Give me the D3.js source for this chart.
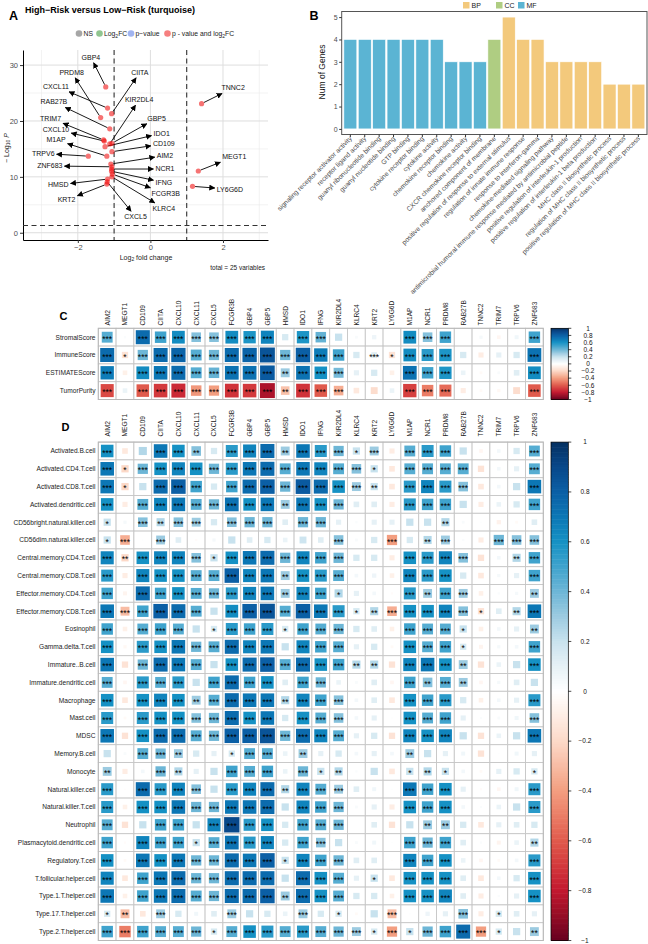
<!DOCTYPE html>
<html><head><meta charset="utf-8">
<script src="https://cdn.jsdelivr.net/npm/d3@7"></script>
<style>body{margin:0;background:#fff}svg{display:block;font-family:"Liberation Sans",Arial,Helvetica,sans-serif}</style>
</head><body><svg id="fig" width="648" height="944"></svg>
<script>
// ================= DATA =================
// Panel A: volcano
const volcanoGenes = ["GBP4","CXCL11","CIITA","PRDM8","RAB27B","TRIM7","CXCL10","KIR2DL4","GBP5","IDO1","CD109","M1AP","TRPV6","AIM2","ZNF683","NCR1","IFNG","FCGR3B","KLRC4","HMSD","CXCL5","KRT2","TNNC2","MEGT1","LY6G6D"];
const volcanoLogFC = [-1.23,-1.18,-1.07,-1.37,-1.12,-1.29,-1.27,-1.12,-1.06,-1.25,-1.06,-1.2,-1.71,-1.09,-1.06,-1.07,-1.07,-1.05,-1.06,-1.18,-1.19,-1.2,1.41,1.32,1.16];
const volcanoNegLog10P = [26.1,22.3,21.3,20.6,18.6,16.6,16.4,15.9,16.0,15.4,14.5,13.7,13.7,12.3,11.8,11.4,11.0,10.5,10.0,9.6,9.1,8.7,23.1,11.05,8.3];
const volcanoLegend = ["NS","Log2FC","p-value","p - value and log2FC"];
// Panel B: GO enrichment
const goTerms = ["signaling receptor activator activity","receptor ligand activity","guanyl ribonucleotide binding","guanyl nucleotide binding","GTP binding","cytokine receptor binding","cytokine activity","chemokine receptor binding","chemokine activity","CXCR chemokine receptor binding","anchored component of membrane","positive regulation of response to external stimulus","regulation of innate immune response","response to interferon-gamma","chemokine-mediated signaling pathway","antimicrobial humoral immune response mediated by antimicrobial peptide","positive regulation of interleukin-1 production","positive regulation of interleukin-1 beta production","MHC class II biosynthetic process","regulation of MHC class II biosynthetic process","positive regulation of MHC class II biosynthetic process"];
const goCounts = [4,4,4,4,4,4,4,3,3,3,4,5,4,4,3,3,3,3,2,2,2];
const goCategory = ["MF","MF","MF","MF","MF","MF","MF","MF","MF","MF","CC","BP","BP","BP","BP","BP","BP","BP","BP","BP","BP"];
const goCategoryOrder = ["BP","CC","MF"];
// Panels C & D: correlations
const corrGenes = ["AIM2","MEGT1","CD109","CIITA","CXCL10","CXCL11","CXCL5","FCGR3B","GBP4","GBP5","HMSD","IDO1","IFNG","KIR2DL4","KLRC4","KRT2","LY6G6D","M1AP","NCR1","PRDM8","RAB27B","TNNC2","TRIM7","TRPV6","ZNF683"];
const estimateRows = ["StromalScore","ImmuneScore","ESTIMATEScore","TumorPurity"];
const estimateR = [
 [0.45,0.02,0.75,0.5,0.62,0.35,0.35,0.62,0.58,0.65,0.15,0.58,0.42,0.2,0.03,0.07,0,0.62,0.35,0.5,0,0.04,-0.05,0.06,0.5],
 [0.75,-0.15,0.4,0.75,0.78,0.45,0.4,0.75,0.78,0.85,0.4,0.8,0.68,0.5,0.15,0.12,-0.15,0.62,0.55,0.58,0.15,-0.1,0.1,0.15,0.72],
 [0.68,-0.08,0.62,0.7,0.75,0.45,0.42,0.72,0.72,0.82,0.3,0.72,0.6,0.38,0.1,0.15,-0.08,0.72,0.5,0.58,0.08,-0.03,0.03,0.12,0.62],
 [-0.65,0.08,-0.6,-0.7,-0.75,-0.42,-0.4,-0.72,-0.7,-0.85,-0.28,-0.72,-0.6,-0.35,-0.12,-0.18,0.08,-0.68,-0.5,-0.55,-0.1,-0.03,-0.04,-0.18,-0.6]];
const estimateSig = [
 [3,0,3,3,3,3,3,3,3,3,0,3,3,0,0,0,0,3,3,3,0,0,0,0,3],
 [3,1,3,3,3,3,3,3,3,3,3,3,3,3,0,3,1,3,3,3,0,0,0,0,3],
 [3,0,3,3,3,3,3,3,3,3,2,3,3,3,0,0,0,3,3,3,0,0,0,0,3],
 [3,0,3,3,3,3,3,3,3,3,2,3,3,3,0,0,0,3,3,3,0,0,0,0,3]];
const immuneRows = ["Activated.B.cell","Activated.CD4.T.cell","Activated.CD8.T.cell","Activated.dendritic.cell","CD56bright.natural.killer.cell","CD56dim.natural.killer.cell","Central.memory.CD4.T.cell","Central.memory.CD8.T.cell","Effector.memory.CD4.T.cell","Effector.memory.CD8.T.cell","Eosinophil","Gamma.delta.T.cell","Immature..B.cell","Immature.dendritic.cell","Macrophage","Mast.cell","MDSC","Memory.B.cell","Monocyte","Natural.killer.cell","Natural.killer.T.cell","Neutrophil","Plasmacytoid.dendritic.cell","Regulatory.T.cell","T.follicular.helper.cell","Type.1.T.helper.cell","Type.17.T.helper.cell","Type.2.T.helper.cell"];
const immuneR = [
 [0.6,-0.12,0.25,0.7,0.6,0.35,0.15,0.55,0.65,0.75,0.3,0.7,0.55,0.4,0.2,0.3,-0.1,0.45,0.55,0.5,0.2,-0.05,0.05,0.15,0.45],
 [0.7,-0.2,0.4,0.6,0.65,0.6,0.4,0.55,0.7,0.75,0.45,0.7,0.65,0.45,0.35,0.2,-0.12,0.45,0.45,0.45,0.45,-0.15,0.05,0.1,0.45],
 [0.7,-0.2,0.2,0.75,0.8,0.5,0.15,0.5,0.75,0.8,0.4,0.82,0.75,0.6,0.3,0.2,-0.12,0.55,0.65,0.55,0.35,-0.12,0.05,0.2,0.7],
 [0.6,-0.1,0.45,0.65,0.7,0.45,0.4,0.72,0.6,0.7,0.3,0.7,0.6,0.4,0.12,0.12,-0.1,0.55,0.5,0.5,0.2,-0.1,0.08,0.15,0.5],
 [0.2,0.04,0.35,0.25,0.35,0.3,0.15,0.35,0.4,0.4,0.12,0.4,0.4,0.1,0.02,0.1,0.1,0.2,0.2,0.25,0.03,0.01,-0.07,-0.03,0.12],
 [0.2,-0.35,0.01,0.3,0.12,-0.02,0.04,0.2,0.12,0.15,0.08,0.18,0.12,0.35,0.03,0.15,-0.4,0.15,0.25,0.3,0.02,-0.1,0.4,0.35,0.35],
 [0.65,-0.2,0.6,0.65,0.65,0.35,0.2,0.6,0.7,0.75,0.4,0.65,0.5,0.4,0.15,0.15,-0.1,0.6,0.55,0.65,0.35,-0.15,0.05,0.25,0.5],
 [0.55,-0.1,0.65,0.6,0.6,0.45,0.45,0.8,0.65,0.7,0.3,0.6,0.55,0.45,0.05,0.07,-0.08,0.65,0.55,0.6,0.15,-0.12,0.04,0.1,0.5],
 [0.5,-0.06,0.75,0.5,0.6,0.45,0.4,0.55,0.65,0.7,0.3,0.65,0.5,0.25,0.1,0.05,-0.02,0.55,0.3,0.5,0.3,-0.08,0.02,0.04,0.3],
 [0.7,-0.3,0.5,0.8,0.75,0.45,0.2,0.62,0.8,0.85,0.45,0.8,0.7,0.55,0.15,0.25,-0.35,0.6,0.6,0.65,0.35,-0.15,0.12,0.25,0.7],
 [0.5,-0.08,0.45,0.5,0.45,0.2,0.15,0.55,0.5,0.55,0.15,0.5,0.45,0.4,0.15,0.12,-0.08,0.5,0.45,0.45,0.2,-0.08,0.05,0.1,0.3],
 [0.6,-0.04,0.55,0.6,0.7,0.4,0.45,0.75,0.65,0.7,0.2,0.65,0.5,0.45,0.1,0.15,-0.03,0.6,0.45,0.5,0.15,-0.06,0.04,0.05,0.5],
 [0.7,-0.15,0.4,0.75,0.7,0.45,0.2,0.6,0.75,0.8,0.45,0.75,0.6,0.5,0.25,0.25,-0.15,0.65,0.7,0.6,0.3,-0.15,0.08,0.2,0.6],
 [0.45,-0.05,0.55,0.45,0.55,0.2,0.5,0.75,0.5,0.6,0.12,0.5,0.4,0.08,0.03,0.12,-0.05,0.5,0.35,0.45,0.3,-0.05,0.04,0.12,0.2],
 [0.6,-0.12,0.6,0.65,0.6,0.3,0.45,0.75,0.7,0.7,0.25,0.65,0.5,0.35,0.05,0.12,-0.12,0.6,0.5,0.55,0.15,-0.08,0.05,0.1,0.55],
 [0.55,-0.03,0.55,0.6,0.6,0.35,0.4,0.75,0.6,0.7,0.15,0.6,0.45,0.35,0.05,0.1,0.01,0.6,0.45,0.5,0.1,0.02,0.03,0.06,0.35],
 [0.7,-0.15,0.6,0.75,0.75,0.45,0.4,0.8,0.8,0.85,0.4,0.75,0.65,0.45,0.1,0.15,-0.15,0.65,0.6,0.65,0.2,-0.15,0.08,0.2,0.7],
 [0.2,0.03,0.45,0.4,0.3,0.15,0.1,0.15,0.45,0.45,0.08,0.3,0.1,0.15,0.05,0.1,0.05,0.3,0.2,0.1,0.06,-0.15,0.01,0.06,0.1],
 [0.3,-0.1,0.05,0.4,0.25,0.1,0.2,0.5,0.45,0.5,0.08,0.4,0.2,0.25,0.02,0.2,-0.12,0.2,0.25,0.2,0.05,-0.03,0.1,0.15,0.15],
 [0.55,-0.01,0.75,0.55,0.65,0.35,0.2,0.55,0.65,0.75,0.25,0.65,0.45,0.3,0.12,0.06,0.01,0.7,0.5,0.6,0.1,-0.02,-0.05,0.06,0.55],
 [0.55,-0.08,0.6,0.6,0.7,0.4,0.4,0.7,0.7,0.75,0.2,0.65,0.5,0.4,0.03,0.1,-0.1,0.6,0.5,0.6,0.05,0.02,0.08,0.2,0.55],
 [0.45,-0.15,0.2,0.5,0.5,0.2,0.65,0.9,0.55,0.6,0.15,0.5,0.45,0.4,0,0.12,-0.15,0.2,0.3,0.3,0.15,-0.12,0.1,0.12,0.15],
 [0.5,-0.02,0.65,0.5,0.5,0.2,0.45,0.72,0.55,0.65,0.15,0.5,0.35,0.2,0.03,0.06,0.01,0.5,0.4,0.5,0.12,0.02,-0.06,0.08,0.25],
 [0.6,-0.03,0.7,0.6,0.7,0.4,0.4,0.75,0.7,0.8,0.2,0.65,0.5,0.4,0.12,0.12,-0.01,0.65,0.5,0.6,0.08,-0.05,-0.03,0.05,0.55],
 [0.65,-0.12,0.5,0.7,0.75,0.4,0.4,0.75,0.75,0.75,0.2,0.75,0.6,0.45,0.1,0.2,-0.12,0.6,0.6,0.6,0.12,-0.12,0.05,0.15,0.6],
 [0.7,-0.08,0.5,0.7,0.75,0.45,0.4,0.75,0.75,0.8,0.3,0.75,0.6,0.45,0.15,0.15,-0.08,0.6,0.6,0.65,0.12,-0.1,0.02,0.1,0.6],
 [0.15,-0.3,-0.12,0.3,0.15,0.06,0.12,0.3,0.2,0.15,0.08,0.3,0.15,0.15,-0.03,0.2,-0.3,0.01,0.07,0.1,0.35,-0.1,0.15,0.12,0.1],
 [0.5,-0.5,0.5,0.45,0.45,0.4,0.15,0.45,0.6,0.55,0.45,0.55,0.45,0.4,0.3,0.15,-0.4,0.2,0.4,0.5,0.75,-0.4,0.15,0.2,0.3]];
const immuneSig = [
 [3,0,0,3,3,2,0,3,3,3,2,3,3,3,1,3,0,3,3,3,0,0,0,0,3],
 [3,1,3,3,3,3,3,3,3,3,3,3,3,3,3,1,0,3,3,3,3,0,0,0,3],
 [3,1,0,3,3,3,0,3,3,3,3,3,3,3,3,2,0,3,3,3,3,0,0,0,3],
 [3,0,3,3,3,3,3,3,3,3,2,3,3,3,0,0,0,3,3,3,0,0,0,0,3],
 [1,0,3,2,3,3,0,3,3,3,0,3,3,0,0,0,0,0,0,2,0,0,0,0,0],
 [1,3,0,3,0,0,0,0,0,0,0,0,0,3,0,0,3,0,2,3,0,0,3,3,3],
 [3,2,3,3,3,3,1,3,3,3,3,3,3,3,0,0,0,3,3,3,3,0,0,2,3],
 [3,0,3,3,3,3,3,3,3,3,2,3,3,3,0,0,0,3,3,3,0,0,0,0,3],
 [3,0,3,3,3,3,3,3,3,3,2,3,3,1,0,0,0,3,2,3,3,0,0,0,2],
 [3,3,3,3,3,3,0,3,3,3,3,3,3,3,1,2,3,3,3,3,3,1,0,2,3],
 [3,0,3,3,3,0,1,3,3,3,1,3,3,3,0,0,0,3,3,3,1,0,0,0,2],
 [3,0,3,3,3,3,3,3,3,3,0,3,3,3,0,0,0,3,3,3,1,0,0,0,3],
 [3,0,3,3,3,3,0,3,3,3,3,3,3,3,2,2,0,3,3,3,2,0,0,0,3],
 [3,0,3,3,3,0,3,3,3,3,0,3,3,0,0,0,0,3,2,3,2,0,0,0,0],
 [3,0,3,3,3,2,3,3,3,3,2,3,3,3,0,0,0,3,3,3,0,0,0,0,3],
 [3,0,3,3,3,3,3,3,3,3,0,3,3,3,0,0,0,3,3,3,0,0,0,0,3],
 [3,0,3,3,3,3,3,3,3,3,3,3,3,3,0,0,0,3,3,3,0,0,0,0,3],
 [0,0,3,3,2,0,0,1,3,3,0,2,0,0,0,0,0,2,0,0,0,0,0,0,0],
 [2,0,0,3,2,0,0,3,3,3,0,3,1,2,0,0,0,1,2,1,0,0,0,0,1],
 [3,0,3,3,3,3,0,3,3,3,2,3,3,3,0,0,0,3,3,3,0,0,0,0,3],
 [3,0,3,3,3,3,3,3,3,3,0,3,3,3,0,0,0,3,3,3,0,0,0,0,3],
 [3,0,0,3,3,0,3,3,3,3,0,3,3,3,0,0,0,0,2,2,0,0,0,0,0],
 [3,0,3,3,3,1,3,3,3,3,0,3,3,0,0,0,0,3,3,3,0,0,0,0,2],
 [3,0,3,3,3,3,3,3,3,3,1,3,3,3,0,0,0,3,3,3,0,0,0,0,3],
 [3,0,3,3,3,3,3,3,3,3,0,3,3,3,0,1,0,3,3,3,0,0,0,0,3],
 [3,0,3,3,3,3,3,3,3,3,2,3,3,3,0,0,0,3,3,3,0,0,0,0,3],
 [1,2,0,3,0,0,0,3,0,0,0,3,0,1,0,0,3,0,0,0,3,0,1,0,0],
 [3,3,3,3,3,3,1,3,3,3,3,3,3,3,3,1,3,1,3,3,3,3,1,0,2]];
const colorbarTicks = [1,0.8,0.6,0.4,0.2,0,-0.2,-0.4,-0.6,-0.8,-1];

// ================= LAYOUT (not data) =================
// label anchor positions for the repelled volcano labels, in data units
const volcanoLabelX = [-1.64,-2.6,-0.29,-2.17,-2.66,-2.75,-2.6,-0.31,0.17,0.31,0.37,-2.6,-2.95,0.4,-2.77,0.4,0.37,0.42,0.37,-2.54,-0.41,-2.31,2.28,2.31,2.19];
const volcanoLabelY = [31.4,26.2,28.7,28.7,23.4,20.5,18.5,23.8,20.5,17.8,15.9,16.6,14.2,13.8,11.95,11.4,9.0,7.06,4.37,8.55,2.87,5.86,25.9,13.6,7.8];

const svg = d3.select("#fig");
const minus = s => String(s).replace("-", "\u2212");

// ================= PANEL A =================
(function(){
  const g = svg.append("g");
  const x = d3.scaleLinear().domain([-3.51, 3.24]).range([23, 268]);
  const y = d3.scaleLinear().domain([-1.3, 32.7]).range([240, 50]);
  g.append("text").attr("x",9).attr("y",20).attr("font-size",12.5).attr("font-weight","bold").text("A");
  g.append("text").attr("x",25).attr("y",12.5).attr("font-size",9).attr("font-weight","bold").text("High\u2212Risk versus Low\u2212Risk (turquoise)");
  // legend
  const legCols = ["#4D4D4D","#228B22","#4169E1","#EE0000"];
  const legX = [79, 99.5, 131, 167.5];
  const lg = g.selectAll("g.leg").data(volcanoLegend).join("g").attr("class","leg")
    .attr("transform",(d,i)=>`translate(${legX[i]},33.5)`);
  lg.append("circle").attr("r",3.3).attr("fill",(d,i)=>legCols[i]).attr("fill-opacity",0.5);
  lg.append("text").attr("x",4.5).attr("y",2.5).attr("font-size",6.8).attr("fill","#222")
    .each(function(d){
      const t=d3.select(this);
      if(d==="Log2FC"){t.append("tspan").text("Log");t.append("tspan").attr("font-size",5).attr("dy",1.5).text("2");t.append("tspan").attr("dy",-1.5).text("FC");}
      else if(d==="p - value and log2FC"){t.append("tspan").text("p - value and log");t.append("tspan").attr("font-size",5).attr("dy",1.5).text("2");t.append("tspan").attr("dy",-1.5).text("FC");}
      else t.text(minus(d));
    });
  // grid
  const gridG = g.append("g");
  [-3,-1,1,3].forEach(v=>gridG.append("line").attr("x1",x(v)).attr("x2",x(v)).attr("y1",50).attr("y2",240).attr("stroke","#EBEBEB").attr("stroke-width",0.6));
  [5,15,25].forEach(v=>gridG.append("line").attr("y1",y(v)).attr("y2",y(v)).attr("x1",23).attr("x2",268).attr("stroke","#EBEBEB").attr("stroke-width",0.6));
  [-2,0,2].forEach(v=>gridG.append("line").attr("x1",x(v)).attr("x2",x(v)).attr("y1",50).attr("y2",240).attr("stroke","#DEDEDE").attr("stroke-width",1));
  [0,10,20,30].forEach(v=>gridG.append("line").attr("y1",y(v)).attr("y2",y(v)).attr("x1",23).attr("x2",268).attr("stroke","#DEDEDE").attr("stroke-width",1));
  // axes
  const ya = g.append("g").attr("transform","translate(23,0)").call(d3.axisLeft(y).tickValues([0,10,20,30]).tickFormat(d3.format("d")).tickSize(3).tickSizeOuter(0).tickPadding(2));
  const xa = g.append("g").attr("transform","translate(0,240)").call(d3.axisBottom(x).tickValues([-2,0,2]).tickFormat(d=>minus(d)).tickSize(3).tickSizeOuter(0).tickPadding(2));
  [ya,xa].forEach(a=>{a.select(".domain").attr("stroke","#000").attr("stroke-width",1);
    a.selectAll(".tick line").attr("stroke","#333");
    a.selectAll(".tick text").attr("font-size",7.5).attr("fill","#4D4D4D").attr("font-family",null);});
  // cutoffs
  [-1,1].forEach(v=>g.append("line").attr("x1",x(v)).attr("x2",x(v)).attr("y1",50).attr("y2",240).attr("stroke","#333").attr("stroke-width",1.1).attr("stroke-dasharray","5,3.5"));
  g.append("line").attr("x1",23).attr("x2",268).attr("y1",y(-Math.log10(0.05))).attr("y2",y(-Math.log10(0.05))).attr("stroke","#333").attr("stroke-width",1.1).attr("stroke-dasharray","5,3.5");
  // axis titles
  const xt = g.append("text").attr("x",146).attr("y",259.5).attr("text-anchor","middle").attr("font-size",7).attr("fill","#222");
  xt.append("tspan").text("Log");xt.append("tspan").attr("font-size",5).attr("dy",1.5).text("2");xt.append("tspan").attr("dy",-1.5).text(" fold change");
  const yt = g.append("text").attr("transform","translate(8.5,148) rotate(-90)").attr("text-anchor","middle").attr("font-size",7).attr("fill","#222");
  yt.append("tspan").text("\u2212 Log");yt.append("tspan").attr("font-size",5).attr("dy",1.5).text("10");yt.append("tspan").attr("dy",-1.5).attr("font-style","italic").text(" P");
  g.append("text").attr("x",265).attr("y",270).attr("text-anchor","end").attr("font-size",6.5).attr("fill","#222").text("total = 25 variables");
  // arrow marker
  const defs = svg.append("defs");
  defs.append("marker").attr("id","arrA").attr("viewBox","0 0 10 10").attr("refX",9).attr("refY",5)
    .attr("markerWidth",6).attr("markerHeight",6).attr("markerUnits","userSpaceOnUse").attr("orient","auto")
    .append("path").attr("d","M0,0L10,5L0,10z").attr("fill","#000");
  // points
  g.selectAll("circle.pt").data(volcanoGenes).join("circle").attr("class","pt")
    .attr("cx",(d,i)=>x(volcanoLogFC[i])).attr("cy",(d,i)=>y(volcanoNegLog10P[i])).attr("r",2.6)
    .attr("fill","#EE0000").attr("fill-opacity",0.55);
  // labels
  const labs = g.selectAll("text.lab").data(volcanoGenes).join("text").attr("class","lab")
    .attr("x",(d,i)=>x(volcanoLabelX[i])).attr("y",(d,i)=>y(volcanoLabelY[i])).attr("dy","0.35em")
    .attr("text-anchor","middle").attr("font-size",7).attr("fill","#111").text(d=>d);
  labs.each(function(d,i){
    const w = this.getComputedTextLength()/2 + 2, h = 5.5;
    const lx = x(volcanoLabelX[i]), ly = y(volcanoLabelY[i]);
    const px = x(volcanoLogFC[i]), py = y(volcanoNegLog10P[i]);
    const dx = px-lx, dy = py-ly;
    const t = Math.min(Math.abs(dx)>1e-6? w/Math.abs(dx):1e9, Math.abs(dy)>1e-6? h/Math.abs(dy):1e9);
    const ex = lx+dx*t, ey = ly+dy*t;
    const len = Math.hypot(ex-px, ey-py);
    const sx = px + (ex-px)*2.6/len, sy = py + (ey-py)*2.6/len;
    g.insert("line","circle.pt").attr("x1",sx).attr("y1",sy).attr("x2",ex).attr("y2",ey)
      .attr("stroke","#000").attr("stroke-width",0.9).attr("marker-end","url(#arrA)");
  });
})();

// ================= PANEL B =================
(function(){
  const g = svg.append("g");
  const catCol = {BP:"#F3C97C", CC:"#AFCD82", MF:"#5BB4D3"};
  const x = d3.scaleBand().domain(goTerms).range([341.7, 647]).paddingInner(0.1).paddingOuter(0.15);
  const y = d3.scaleLinear().domain([-0.25, 5.25]).range([134.5, 11.5]);
  g.append("text").attr("x",309.5).attr("y",19.5).attr("font-size",12.5).attr("font-weight","bold").text("B");
  g.selectAll("rect.bar").data(goTerms).join("rect").attr("class","bar")
    .attr("x",d=>x(d)).attr("width",x.bandwidth())
    .attr("y",(d,i)=>y(goCounts[i])).attr("height",(d,i)=>y(0)-y(goCounts[i]))
    .attr("fill",(d,i)=>catCol[goCategory[i]]).attr("stroke","#fff").attr("stroke-width",0.6);
  g.append("rect").attr("x",341.7).attr("y",11.5).attr("width",647-341.7).attr("height",123)
    .attr("fill","none").attr("stroke","#555").attr("stroke-width",1);
  const ya = g.append("g").attr("transform","translate(341.7,0)").call(d3.axisLeft(y).tickValues([0,1,2,3,4,5]).tickFormat(d3.format("d")).tickSize(2.5).tickSizeOuter(0).tickPadding(1.5));
  ya.select(".domain").remove();
  ya.selectAll(".tick line").attr("stroke","#333");
  ya.selectAll(".tick text").attr("font-size",7).attr("fill","#4D4D4D").attr("font-family",null);
  const xa = g.append("g").attr("transform","translate(0,134.5)").call(d3.axisBottom(x).tickSize(2.5).tickSizeOuter(0).tickFormat(""));
  xa.select(".domain").remove();
  xa.selectAll(".tick line").attr("stroke","#333");
  g.selectAll("text.xl").data(goTerms).join("text").attr("class","xl")
    .attr("transform",d=>`translate(${x(d)+x.bandwidth()/2+2},${139}) rotate(-45)`)
    .attr("text-anchor","end").attr("font-size",6.7).attr("fill","#4D4D4D").text(d=>d);
  g.append("text").attr("transform","translate(325,72) rotate(-90)").attr("text-anchor","middle").attr("font-size",8.5).attr("fill","#111").text("Num of Genes");
  // legend
  const lx = [463, 496, 518];
  const lg = g.selectAll("g.leg").data(goCategoryOrder).join("g").attr("class","leg").attr("transform",(d,i)=>`translate(${lx[i]},2)`);
  lg.append("rect").attr("width",6.5).attr("height",6.5).attr("fill",d=>catCol[d]);
  lg.append("text").attr("x",8.5).attr("y",6.2).attr("font-size",7).attr("fill","#222").text(d=>d);
})();

// ================= PANELS C & D =================
const corrColor = d3.scaleLinear()
  .domain([-1,-0.9,-0.8,-0.7,-0.6,-0.5,-0.4,-0.3,-0.2,-0.1,0,0.1,0.2,0.3,0.4,0.5,0.6,0.7,0.8,0.9,1])
  .range(["#67001F","#950D26","#C2182F","#D3393C","#E05A4C","#EB7D66","#F39E80","#F8BCA4","#FCD9C8","#FEEDE4","#FFFFFF","#E6F1F6","#C8E2EE","#9CCBE1","#6DB6D6","#3FA3CD","#1591C4","#0C77B5","#0B5FA5","#08488A","#053061"]);
const CELL = 17.8, GX0 = 98.3;

function drawCorr(rowNames, R, S, top, letter, letterXY, colLabY, cbLabelX) {
  const g = svg.append("g");
  const x = d3.scaleBand().domain(corrGenes).range([GX0, GX0 + CELL*corrGenes.length]);
  const y = d3.scaleBand().domain(rowNames).range([top, top + CELL*rowNames.length]);
  g.append("text").attr("x",letterXY[0]).attr("y",letterXY[1]).attr("font-size",11).attr("font-weight","bold").text(letter);
  const cells = [];
  rowNames.forEach((rn,i)=>corrGenes.forEach((gn,j)=>cells.push({rn,gn,r:R[i][j],s:S[i][j]})));
  g.selectAll("rect.bg").data(cells).join("rect").attr("class","bg")
    .attr("x",d=>x(d.gn)).attr("y",d=>y(d.rn)).attr("width",CELL).attr("height",CELL)
    .attr("fill","#fff").attr("stroke","#C6C6C6").attr("stroke-width",0.9);
  const side = d=>Math.sqrt(Math.abs(d.r))*(CELL-1.6);
  g.selectAll("rect.sq").data(cells.filter(d=>d.r!==0)).join("rect").attr("class","sq")
    .attr("x",d=>x(d.gn)+CELL/2-side(d)/2).attr("y",d=>y(d.rn)+CELL/2-side(d)/2)
    .attr("width",side).attr("height",side).attr("fill",d=>corrColor(d.r));
  g.selectAll("text.star").data(cells.filter(d=>d.s>0)).join("text").attr("class","star")
    .attr("x",d=>x(d.gn)+CELL/2).attr("y",d=>y(d.rn)+CELL/2+4.6)
    .attr("text-anchor","middle").attr("font-size",8.5).attr("fill","#000").text(d=>"*".repeat(d.s));
  g.append("rect").attr("x",GX0).attr("y",top).attr("width",CELL*corrGenes.length).attr("height",CELL*rowNames.length)
    .attr("fill","none").attr("stroke","#B8B8B8").attr("stroke-width",1);
  g.selectAll("text.rl").data(rowNames).join("text").attr("class","rl")
    .attr("x",95.5).attr("y",d=>y(d)+CELL/2).attr("dy","0.35em").attr("text-anchor","end")
    .attr("font-size",6.6).attr("fill","#222").text(d=>d);
  g.selectAll("text.cl").data(corrGenes).join("text").attr("class","cl")
    .attr("transform",d=>`translate(${x(d)+CELL/2},${colLabY}) rotate(-90)`).attr("dy","0.35em")
    .attr("text-anchor","start").attr("font-size",6.6).attr("fill","#222").text(d=>d);
  // colorbar
  const H = CELL*rowNames.length;
  const cy = d3.scaleLinear().domain([1,-1]).range([top, top+H]);
  const n = 200, cbx = 551, cbw = 17.3;
  g.selectAll("rect.cb").data(d3.range(n)).join("rect").attr("class","cb")
    .attr("x",cbx).attr("width",cbw).attr("y",i=>top+H*i/n).attr("height",H/n+0.5)
    .attr("fill",i=>corrColor(1-2*(i+0.5)/n));
  g.append("rect").attr("x",cbx).attr("y",top).attr("width",cbw).attr("height",H).attr("fill","none").attr("stroke","#000").attr("stroke-width",0.7);
  g.selectAll("line.cbt").data(colorbarTicks).join("line").attr("class","cbt")
    .attr("x1",cbx+cbw).attr("x2",cbx+cbw+3).attr("y1",d=>cy(d)).attr("y2",d=>cy(d)).attr("stroke","#000").attr("stroke-width",0.7);
  g.selectAll("text.cbl").data(colorbarTicks).join("text").attr("class","cbl")
    .attr("x",cbLabelX).attr("y",d=>cy(d)).attr("dy","0.35em").attr("text-anchor","middle")
    .attr("font-size",6.5).attr("fill","#111").text(d=>minus(d));
}
drawCorr(estimateRows, estimateR, estimateSig, 328.3, "C", [59.5, 319.5], 325.5, 588);
drawCorr(immuneRows, immuneR, immuneSig, 442.1, "D", [61.5, 430.7], 436.5, 585);
</script></body></html>
